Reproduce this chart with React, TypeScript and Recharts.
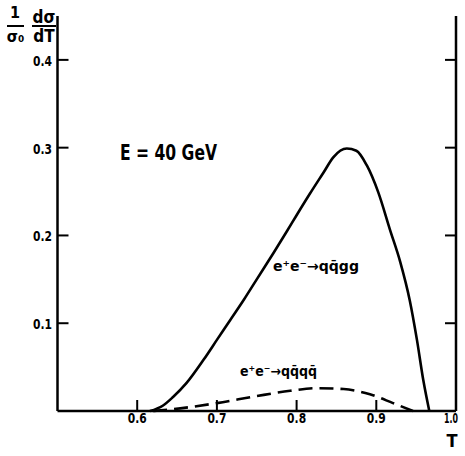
import React from 'react';
import { LineChart, Line, XAxis, YAxis, Customized } from 'recharts';

// T values and (1/σ0) dσ/dT for e+e- -> q q̄ g g (solid)
const qqggT = [0.616, 0.632, 0.645, 0.662, 0.683, 0.700, 0.717, 0.734, 0.750, 0.771, 0.788, 0.800, 0.817, 0.834, 0.846, 0.863, 0.875, 0.888, 0.9025, 0.917, 0.930, 0.942, 0.951, 0.959, 0.9665];
const qqggY = [0, 0.006, 0.016, 0.032, 0.058, 0.081, 0.104, 0.127, 0.150, 0.180, 0.205, 0.223, 0.248, 0.272, 0.289, 0.299, 0.2965, 0.280, 0.249, 0.207, 0.170, 0.126, 0.081, 0.035, 0];

// e+e- -> q q̄ q q̄ (dashed)
const qqqqT = [0.620, 0.654, 0.700, 0.750, 0.792, 0.825, 0.859, 0.892, 0.921, 0.946];
const qqqqY = [0, 0.003, 0.009, 0.017, 0.023, 0.026, 0.025, 0.019, 0.009, 0];

const xTicks = [0.6, 0.7, 0.8, 0.9, 1.0];
const yTicks = [0.1, 0.2, 0.3, 0.4];
const xDomain = [0.5, 1.0];
const yDomain = [0, 0.45];

const energyLabel = 'E = 40 GeV';
const qqggLabel = 'e\u207Ae\u207B\u2192qq\u0304gg';
const qqqqLabel = 'e\u207Ae\u207B\u2192qq\u0304qq\u0304';

const qqggData = qqggT.map((x, i) => ({ x, y: qqggY[i] }));
const qqqqData = qqqqT.map((x, i) => ({ x, y: qqqqY[i] }));

// layout
const CHART_W = 465;
const CHART_H = 456;
const M_TOP = 16;
const LEFT_AXIS_W = 57.5;
const RIGHT_AXIS_W = 9;
const BOTTOM_AXIS_H = 45;
const PLOT_L = LEFT_AXIS_W;
const PLOT_R = CHART_W - RIGHT_AXIS_W;
const PLOT_T = M_TOP;
const PLOT_B = CHART_H - BOTTOM_AXIS_H;
const TICK_LEN = 11;

const FONT = '"DejaVu Sans Condensed", "DejaVu Sans", sans-serif';

const XTick = (props: any) => {
  const { x, y, payload } = props;
  const v = Number(payload.value);
  const last = v >= 1;
  return (
    <text x={last ? x - 5 : x} y={y + 12} textAnchor="middle" fontFamily={FONT} fontWeight="bold" fontSize={14}
      fill="#000" textLength={last ? 14 : 19} lengthAdjust="spacingAndGlyphs">
      {v.toFixed(1)}
    </text>
  );
};

const YTick = (props: any) => {
  const { x, y, payload } = props;
  return (
    <text x={x - 5.5} y={y + 6} textAnchor="end" fontFamily={FONT} fontWeight="bold" fontSize={14}
      fill="#000" textLength={19} lengthAdjust="spacingAndGlyphs">
      {Number(payload.value).toFixed(1)}
    </text>
  );
};

// inward tick marks (axis furniture) placed with the same linear axis mapping as the plot area
const xPix = (t: number) => PLOT_L + ((t - xDomain[0]) / (xDomain[1] - xDomain[0])) * (PLOT_R - PLOT_L);
const yPix = (v: number) => PLOT_B - ((v - yDomain[0]) / (yDomain[1] - yDomain[0])) * (PLOT_B - PLOT_T);

const TickMarks = () => (
  <g stroke="#000" strokeWidth={2}>
    {xTicks.slice(0, -1).map((t) => (
      <line key={`xt${t}`} x1={xPix(t)} x2={xPix(t)} y1={PLOT_B} y2={PLOT_B - TICK_LEN} />
    ))}
    {yTicks.map((t) => (
      <line key={`yl${t}`} x1={PLOT_L} x2={PLOT_L + TICK_LEN} y1={yPix(t)} y2={yPix(t)} />
    ))}
    {yTicks.map((t) => (
      <line key={`yr${t}`} x1={PLOT_R} x2={PLOT_R - TICK_LEN} y1={yPix(t)} y2={yPix(t)} />
    ))}
  </g>
);

const Annotations = () => (
  <g fontFamily={FONT} fontWeight="bold" fill="#000">
    {/* y-axis title: 1/σ0 dσ/dT */}
    <text x={15} y={18} fontSize={16} textAnchor="middle">1</text>
    <line x1={7} x2={24} y1={26} y2={26} stroke="#000" strokeWidth={2} />
    <text x={15.5} y={42} fontSize={16} textAnchor="middle">σ₀</text>
    <text x={44} y={23} fontSize={17} textAnchor="middle">dσ</text>
    <line x1={32} x2={56} y1={26} y2={26} stroke="#000" strokeWidth={2} />
    <text x={44} y={42} fontSize={17} textAnchor="middle">dT</text>
    {/* x-axis title */}
    <text x={452} y={447} fontSize={18} textAnchor="middle">T</text>
    {/* annotations */}
    <text x={120} y={160} fontSize={21} textLength={97} lengthAdjust="spacingAndGlyphs">{energyLabel}</text>
    <text x={273} y={271} fontSize={14} textLength={86} lengthAdjust="spacingAndGlyphs">{qqggLabel}</text>
    <text x={240} y={376} fontSize={14} textLength={77} lengthAdjust="spacingAndGlyphs">{qqqqLabel}</text>
  </g>
);

const axisLine = { stroke: '#000', strokeWidth: 2.5 };

export default function App() {
  return (
    <div style={{ position: 'absolute', left: 0, top: 0, width: CHART_W, height: CHART_H, background: '#fff' }}>
      <LineChart width={CHART_W} height={CHART_H} margin={{ top: M_TOP, right: 0, bottom: 0, left: 0 }}>
        <XAxis dataKey="x" type="number" domain={xDomain} ticks={xTicks}
          height={BOTTOM_AXIS_H} tickSize={0} tickMargin={0} tickLine={false} tick={<XTick />} interval={0}
          axisLine={axisLine} />
        <XAxis xAxisId="top" orientation="top" dataKey="x" type="number" domain={xDomain} height={0}
          tick={false} tickLine={false} axisLine={axisLine} />
        <YAxis type="number" domain={yDomain} ticks={yTicks} width={LEFT_AXIS_W}
          tickSize={0} tickMargin={0} tickLine={false} tick={<YTick />} interval={0}
          axisLine={axisLine} />
        <YAxis yAxisId="right" orientation="right" type="number" domain={yDomain} ticks={yTicks} width={RIGHT_AXIS_W}
          tick={false} tickLine={false} axisLine={axisLine} />
        <Line data={qqggData} dataKey="y" type="monotone" stroke="#000" strokeWidth={2.6}
          dot={false} isAnimationActive={false} />
        <Line data={qqqqData} dataKey="y" type="monotone" stroke="#000" strokeWidth={2.6}
          strokeDasharray="14 7" dot={false} isAnimationActive={false} />
        <Customized component={TickMarks} />
        <Customized component={Annotations} />
      </LineChart>
    </div>
  );
}
